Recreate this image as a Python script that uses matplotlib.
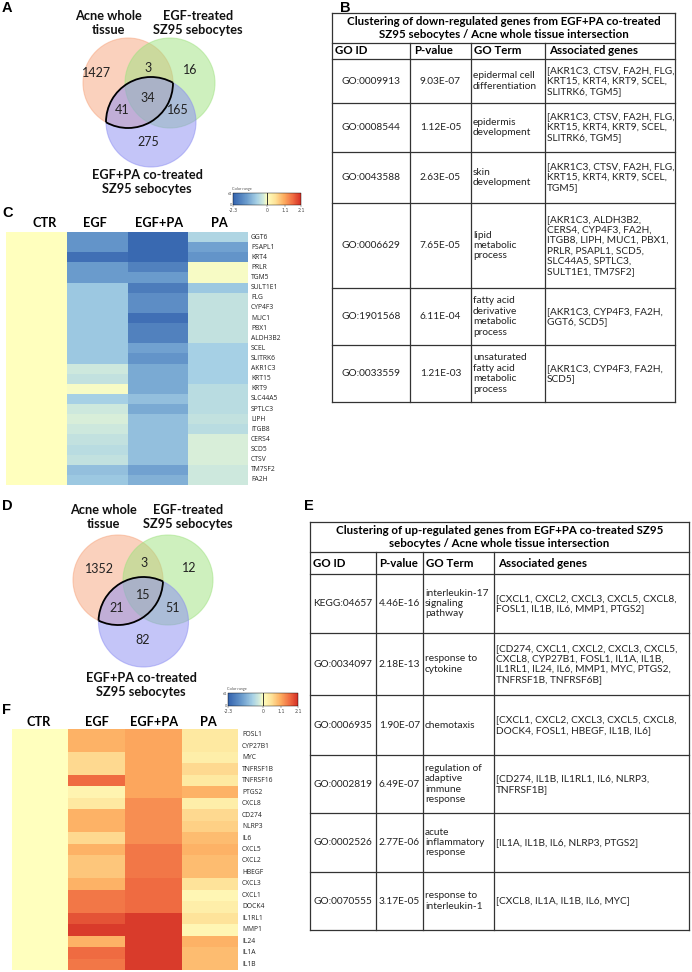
import numpy as np
import matplotlib
matplotlib.use('Agg')
import matplotlib.pyplot as plt
from matplotlib.patches import Circle, Arc
from matplotlib.colors import LinearSegmentedColormap, TwoSlopeNorm
from matplotlib.cm import ScalarMappable

# ---------------- DATA ----------------
venn_labels = ["Acne whole\ntissue", "EGF-treated\nSZ95 sebocytes", "EGF+PA co-treated\nSZ95 sebocytes"]
# region order: A only, A&B, B only, A&C, A&B&C, B&C, C only
venn_down = [1427, 3, 16, 41, 34, 165, 275]
venn_up = [1352, 3, 12, 21, 15, 51, 82]

conditions = ["CTR", "EGF", "EGF+PA", "PA"]

genes_down = ["GGT6", "PSAPL1", "KRT4", "PRLR", "TGM5", "SULT1E1", "FLG", "CYP4F3", "MUC1",
              "PBX1", "ALDH3B2", "SCEL", "SLITRK6", "AKR1C3", "KRT15", "KRT9", "SLC44A5",
              "SPTLC3", "LIPH", "ITGB8", "CERS4", "SCD5", "CTSV", "TM7SF2", "FA2H"]
down_ctr = [0.0] * 25
down_egf = [-1.5, -1.5, -2.1, -1.4, -1.4, -0.8, -0.8, -0.8, -0.8, -0.8, -0.8, -0.8, -0.8,
            -0.3, -0.4, -0.05, -0.7, -0.3, -0.2, -0.3, -0.4, -0.5, -0.4, -0.9, -0.8]
down_egfpa = [-2.2, -2.2, -2.2, -1.8, -1.4, -1.9, -1.6, -1.6, -2.1, -1.8, -1.8, -1.3, -1.5,
              -1.2, -1.2, -1.2, -0.9, -1.2, -0.9, -0.9, -0.9, -0.9, -0.9, -1.3, -1.1]
down_pa = [-0.6, -1.3, -1.5, -0.05, -0.05, -0.8, -0.4, -0.4, -0.4, -0.4, -0.4, -0.7, -0.7,
           -0.7, -0.7, -0.5, -0.5, -0.5, -0.4, -0.5, -0.2, -0.2, -0.2, -0.3, -0.3]

genes_up = ["FOSL1", "CYP27B1", "MYC", "TNFRSF1B", "TNFRSF16", "PTGS2", "CXCL8", "CD274",
            "NLRP3", "IL6", "CXCL5", "CXCL2", "HBEGF", "CXCL3", "CXCL1", "DOCK4", "IL1RL1",
            "MMP1", "IL24", "IL1A", "IL1B"]
up_ctr = [0.0] * 21
up_egf = [1.0, 1.0, 0.6, 0.6, 1.6, 0.2, 0.4, 1.0, 1.0, 0.6, 1.0, 0.8, 0.8, 1.0, 1.5, 1.5,
          1.8, 2.0, 1.0, 1.6, 1.5]
up_egfpa = [1.1, 1.1, 1.1, 1.1, 1.1, 1.1, 1.3, 1.3, 1.3, 1.3, 1.5, 1.5, 1.5, 1.6, 1.6, 1.6,
            2.0, 2.0, 2.0, 2.0, 2.0]
up_pa = [0.4, 0.4, 0.3, 0.6, 0.4, 1.0, 0.3, 0.6, 0.7, 0.9, 1.0, 0.9, 0.9, 0.5, 0.15, 0.3,
         0.5, 0.15, 1.0, 0.9, 0.9]

cbar_ticks = [-2.3, 0, 1.1, 2.1]

table_headers = ["GO ID", "P-value", "GO Term", "Associated genes"]

down_title = "Clustering of down-regulated genes from EGF+PA co-treated\nSZ95 sebocytes / Acne whole tissue intersection"
down_ids = ["GO:0009913", "GO:0008544", "GO:0043588", "GO:0006629", "GO:1901568", "GO:0033559"]
down_p = ["9.03E-07", "1.12E-05", "2.63E-05", "7.65E-05", "6.11E-04", "1.21E-03"]
down_terms = ["epidermal cell\ndifferentiation", "epidermis\ndevelopment", "skin\ndevelopment",
              "lipid\nmetabolic\nprocess", "fatty acid\nderivative\nmetabolic\nprocess",
              "unsaturated\nfatty acid\nmetabolic\nprocess"]
down_genes = ["[AKR1C3, CTSV, FA2H, FLG,\nKRT15, KRT4, KRT9, SCEL,\nSLITRK6, TGM5]",
              "[AKR1C3, CTSV, FA2H, FLG,\nKRT15, KRT4, KRT9, SCEL,\nSLITRK6, TGM5]",
              "[AKR1C3, CTSV, FA2H, FLG,\nKRT15, KRT4, KRT9, SCEL,\nTGM5]",
              "[AKR1C3, ALDH3B2,\nCERS4, CYP4F3, FA2H,\nITGB8, LIPH, MUC1, PBX1,\nPRLR, PSAPL1, SCD5,\nSLC44A5, SPTLC3,\nSULT1E1, TM7SF2]",
              "[AKR1C3, CYP4F3, FA2H,\nGGT6, SCD5]",
              "[AKR1C3, CYP4F3, FA2H,\nSCD5]"]

up_title = "Clustering of up-regulated genes from EGF+PA co-treated SZ95\nsebocytes / Acne whole tissue intersection"
up_ids = ["KEGG:04657", "GO:0034097", "GO:0006935", "GO:0002819", "GO:0002526", "GO:0070555"]
up_p = ["4.46E-16", "2.18E-13", "1.90E-07", "6.49E-07", "2.77E-06", "3.17E-05"]
up_terms = ["interleukin-17\nsignaling\npathway", "response to\ncytokine", "chemotaxis",
            "regulation of\nadaptive\nimmune\nresponse", "acute\ninflammatory\nresponse",
            "response to\ninterleukin-1"]
up_genes = ["[CXCL1, CXCL2, CXCL3, CXCL5, CXCL8,\nFOSL1, IL1B, IL6, MMP1, PTGS2]",
            "[CD274, CXCL1, CXCL2, CXCL3, CXCL5,\nCXCL8, CYP27B1, FOSL1, IL1A, IL1B,\nIL1RL1, IL24, IL6, MMP1, MYC, PTGS2,\nTNFRSF1B, TNFRSF6B]",
            "[CXCL1, CXCL2, CXCL3, CXCL5, CXCL8,\nDOCK4, FOSL1, HBEGF, IL1B, IL6]",
            "[CD274, IL1B, IL1RL1, IL6, NLRP3,\nTNFRSF1B]",
            "[IL1A, IL1B, IL6, NLRP3, PTGS2]",
            "[CXCL8, IL1A, IL1B, IL6, MYC]"]

# ---------------- STYLE ----------------
W, H = 692, 972
FONT = "Lato"
LETTER_FONT = "Liberation Sans"

cmap = LinearSegmentedColormap.from_list("heat", [
    (0.0, "#3463ae"), (0.2, "#6b9ccd"), (0.35, "#a6d0e5"), (0.45, "#d4ecdc"),
    (0.5, "#ffffbf"), (0.62, "#fee39a"), (0.75, "#fdad60"), (0.88, "#f06c42"),
    (1.0, "#d42f25")])
norm = TwoSlopeNorm(vmin=-2.3, vcenter=0.0, vmax=2.1)

fig = plt.figure(figsize=(W / 100, H / 100), dpi=100)
ax = fig.add_axes([0, 0, 1, 1])
ax.set_xlim(0, W)
ax.set_ylim(H, 0)
ax.axis("off")


def panel_letter(x, y, s):
    ax.text(x, y, s, fontsize=10.5, fontweight="bold", family=LETTER_FONT, ha="left", va="center")


def circle_intersections(c1, c2, r):
    c1 = np.array(c1, float); c2 = np.array(c2, float)
    d = np.linalg.norm(c2 - c1)
    m = (c1 + c2) / 2
    h = np.sqrt(r ** 2 - (d / 2) ** 2)
    u = (c2 - c1) / d
    p = np.array([-u[1], u[0]])
    return m + h * p, m - h * p


def arc_inside(center, other, pts, r):
    a = [np.degrees(np.arctan2(pt[1] - center[1], pt[0] - center[0])) for pt in pts]
    ac = np.degrees(np.arctan2(other[1] - center[1], other[0] - center[0]))
    a1, a2 = a
    if (ac - a1) % 360 < (a2 - a1) % 360:
        t1, t2 = a1, a2
    else:
        t1, t2 = a2, a1
    return Arc(center, 2 * r, 2 * r, theta1=t1, theta2=t2, color="black", lw=1.3, zorder=5)


def venn(centers, r, counts, count_pos, label_pos):
    cols = ["#f7a47c", "#9ee27f", "#8a8cf2"]
    for c, col in zip(centers, cols):
        ax.add_patch(Circle(c, r, facecolor=col, edgecolor=col, alpha=0.5, lw=0.8, zorder=2))
    pts = circle_intersections(centers[0], centers[2], r)
    ax.add_patch(arc_inside(centers[0], centers[2], pts, r))
    ax.add_patch(arc_inside(centers[2], centers[0], pts, r))
    for n, (x, y) in zip(counts, count_pos):
        ax.text(x, y, str(n), fontsize=9, family=FONT, ha="center", va="center", color="#222", zorder=6)
    for lab, (x, y) in zip(venn_labels, label_pos):
        ax.text(x, y, lab, fontsize=9.2, fontweight="bold", family=FONT, ha="center", va="center",
                linespacing=1.15, color="#111")


def heatmap(xedges, yedges, cols, genes, header_pos, label_x):
    data = np.array(cols).T
    ax.pcolormesh(xedges, yedges, data, cmap=cmap, norm=norm, zorder=2)
    for name, (x, y) in zip(conditions, header_pos):
        ax.text(x, y, name, fontsize=9.2, fontweight="bold", family=FONT, ha="center", va="center")
    yc = (np.array(yedges[:-1]) + np.array(yedges[1:])) / 2
    for g, y in zip(genes, yc):
        ax.text(label_x, y, g, fontsize=4.9, family="Open Sans", ha="left", va="center", color="#222")


def colorbar(px, py, pw, ph):
    cax = fig.add_axes([px / W, 1 - (py + ph) / H, pw / W, ph / H])
    sm = ScalarMappable(norm=norm, cmap=cmap)
    cb = fig.colorbar(sm, cax=cax, orientation="horizontal", ticks=cbar_ticks)
    cb.ax.set_xticklabels([str(t) for t in cbar_ticks])
    cb.ax.tick_params(labelsize=3.3, length=1.2, width=0.3, pad=0.8, colors="#444")
    cb.outline.set_linewidth(0.3)
    cax.axvline(0, color="#333", lw=0.7)
    ax.text(px - 1, py - 4, "Color range", fontsize=2.8, family=FONT, color="#555", ha="left", va="center")
    ax.text(px - 1, py + 1, "61", fontsize=2.8, family=FONT, color="#555", ha="right", va="center")
    ax.text(px - 1, py + ph, "0", fontsize=2.8, family=FONT, color="#555", ha="right", va="center")


def table(xe, ye, title, ids, ps, terms, genes, header_x, id_center, fs_title=8.3, fs=7.3):
    lc = "#333333"
    lw = 0.9
    x0, x1 = xe[0], xe[-1]
    for y in ye:
        ax.plot([x0, x1], [y, y], color=lc, lw=lw, zorder=3)
    ax.plot([x0, x0], [ye[0], ye[-1]], color=lc, lw=lw)
    ax.plot([x1, x1], [ye[0], ye[-1]], color=lc, lw=lw)
    for x in xe[1:-1]:
        ax.plot([x, x], [ye[1], ye[-1]], color=lc, lw=lw)
    ax.text((x0 + x1) / 2, (ye[0] + ye[1]) / 2, title, fontsize=fs_title, fontweight="bold",
            family=FONT, ha="center", va="center", linespacing=1.15)
    for h, hx in zip(table_headers, header_x):
        ax.text(hx, (ye[1] + ye[2]) / 2, h, fontsize=fs_title, fontweight="bold", family=FONT,
                ha="left", va="center")
    for i in range(len(ids)):
        yc = (ye[i + 2] + ye[i + 3]) / 2
        ax.text(id_center, yc, ids[i], fontsize=fs, family=FONT, ha="center", va="center", color="#222")
        ax.text((xe[1] + xe[2]) / 2, yc, ps[i], fontsize=fs, family=FONT, ha="center", va="center", color="#222")
        ax.text(xe[2] + 2, yc, terms[i], fontsize=fs, family=FONT, ha="left", va="center",
                linespacing=1.2, color="#222")
        ax.text(xe[3] + 2, yc, genes[i], fontsize=fs, family=FONT, ha="left", va="center",
                linespacing=1.2, color="#222")


# ---------------- Panel A ----------------
panel_letter(2, 8, "A")
venn([(128, 83), (170, 83), (151, 122)], 45, venn_down,
     [(97, 73), (148, 68), (190, 70), (122, 110), (148, 98), (178, 110), (148, 142)],
     [(108, 23), (198, 23), (147, 182)])
colorbar(233, 193, 68, 12)

# ---------------- Panel B ----------------
panel_letter(340, 8, "B")
table([332, 410, 471, 545, 675], [13, 43, 59, 103, 152, 203, 288, 345, 402],
      down_title, down_ids, down_p, down_terms, down_genes,
      header_x=[335, 414, 474, 549], id_center=371)

# ---------------- Panel C ----------------
panel_letter(2, 213, "C")
heatmap([6, 67, 128, 188, 248], np.linspace(232, 485, len(genes_down) + 1),
        [down_ctr, down_egf, down_egfpa, down_pa], genes_down,
        [(45, 223), (95, 223), (159, 223), (219, 223)], 251)

# ---------------- Panel D ----------------
panel_letter(2, 506, "D")
venn([(118, 580), (168, 580), (143.5, 622)], 45, venn_up,
     [(99, 569), (144, 563), (189, 568), (117, 608), (143, 595), (173, 608), (143, 640)],
     [(103, 517), (188, 517), (141, 685)])
colorbar(228, 693, 70, 13)

# ---------------- Panel E ----------------
panel_letter(304, 506, "E")
table([310, 376, 423, 494, 689], [522, 552, 574, 633, 695, 755, 813, 872, 930],
      up_title, up_ids, up_p, up_terms, up_genes,
      header_x=[313, 379, 426, 498], id_center=343)

# ---------------- Panel F ----------------
panel_letter(2, 710, "F")
heatmap([12, 68, 125, 182, 238], np.linspace(729, 970, len(genes_up) + 1),
        [up_ctr, up_egf, up_egfpa, up_pa], genes_up,
        [(39, 722), (97, 722), (154, 722), (208, 722)], 242)

fig.savefig("out.png", dpi=100, facecolor="white")
